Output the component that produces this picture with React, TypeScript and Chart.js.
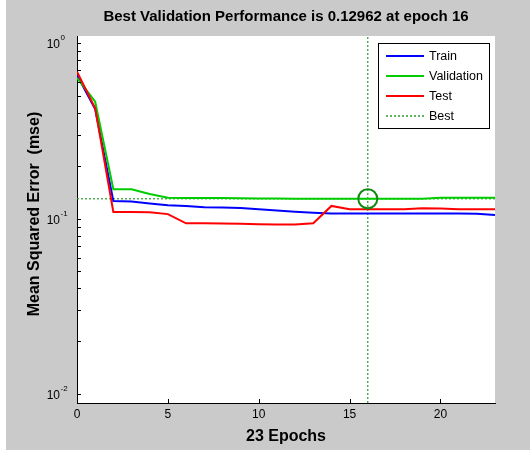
import React, { useEffect, useRef } from 'react';
import { Chart, registerables } from 'chart.js';

Chart.register(...registerables);

// ---- data ----
const epochs = [0, 1, 2, 3, 4, 5, 6, 7, 8, 9, 10, 11, 12, 13, 14, 15, 16, 17, 18, 19, 20, 21, 22, 23];
const trainMse = [0.657, 0.42, 0.126, 0.125, 0.122, 0.119, 0.118, 0.116, 0.1155, 0.115, 0.113, 0.111, 0.1095, 0.108, 0.107, 0.107, 0.1068, 0.1068, 0.1068, 0.1067, 0.1067, 0.1067, 0.1066, 0.1046];
const validationMse = [0.632, 0.463, 0.147, 0.147, 0.138, 0.1312, 0.131, 0.131, 0.1308, 0.1305, 0.13, 0.1299, 0.1298, 0.1298, 0.1297, 0.12965, 0.12962, 0.1297, 0.1297, 0.1298, 0.1312, 0.1312, 0.1313, 0.1313];
const testMse = [0.686, 0.425, 0.109, 0.109, 0.1085, 0.106, 0.094, 0.094, 0.0938, 0.0935, 0.0928, 0.0925, 0.0925, 0.094, 0.118, 0.113, 0.1128, 0.1128, 0.1128, 0.1143, 0.114, 0.1128, 0.1128, 0.1128];
const bestEpoch = 16;
const bestPerf = 0.12962;
const xRange = [0, 23];
const yRange = [0.0089, 1.096];
const xTicks = [0, 5, 10, 15, 20];
const yMajorTicks = [0.01, 0.1, 1];
const yTickBase = '10';
const yTickExponents = ['-2', '-1', '0'];
const yMinorTicks = [0.02, 0.03, 0.04, 0.05, 0.06, 0.07, 0.08, 0.09, 0.2, 0.3, 0.4, 0.5, 0.6, 0.7, 0.8, 0.9];
const seriesLabels = ['Train', 'Validation', 'Test', 'Best'];
const titleText = 'Best Validation Performance is 0.12962 at epoch 16';
const xTitle = '23 Epochs';
const yTitle = 'Mean Squared Error  (mse)';

const FONT = "'Liberation Sans', Arial, Helvetica, sans-serif";
const BLUE = '#0000ff';
const GREEN = '#00cc00';
const RED = '#ff0000';
const BEST = '#2a9a2a';
const CIRCLE = '#118811';

const framePlugin = {
  id: 'matlabFrame',
  beforeDraw(chart: any) {
    const { ctx, chartArea: a, width, height } = chart;
    ctx.save();
    ctx.fillStyle = '#ffffff';
    ctx.fillRect(0, 0, width, height);
    ctx.fillStyle = '#cacaca';
    ctx.fillRect(6, 0, width - 6, height);
    ctx.fillStyle = '#ffffff';
    ctx.fillRect(a.left, a.top, a.right - a.left, a.bottom - a.top);
    ctx.restore();
  },
  afterDraw(chart: any) {
    const { ctx, chartArea: a, scales } = chart;
    const xs = scales.x;
    const ys = scales.y;
    ctx.save();
    // inward tick marks
    ctx.strokeStyle = '#000';
    ctx.lineWidth = 1;
    ctx.beginPath();
    xTicks.forEach((v) => {
      const px = Math.round(xs.getPixelForValue(v)) + 0.5;
      ctx.moveTo(px, a.bottom);
      ctx.lineTo(px, a.bottom - 4);
    });
    [...yMajorTicks, ...yMinorTicks].forEach((v) => {
      const py = Math.round(ys.getPixelForValue(v)) + 0.5;
      ctx.moveTo(a.left, py);
      ctx.lineTo(a.left + 4, py);
    });
    ctx.stroke();

    // y tick labels with superscript exponents
    ctx.fillStyle = '#000';
    yMajorTicks.forEach((v, i) => {
      const py = ys.getPixelForValue(v);
      ctx.font = `12px ${FONT}`;
      ctx.textAlign = 'right';
      ctx.textBaseline = 'middle';
      ctx.fillText(yTickBase, 60, py + 2);
      ctx.font = `8px ${FONT}`;
      ctx.textAlign = 'left';
      ctx.fillText(yTickExponents[i], 60.5, py - 5);
    });

    // title
    ctx.font = `bold 15px ${FONT}`;
    ctx.textAlign = 'center';
    ctx.textBaseline = 'middle';
    ctx.fillText(titleText, (a.left + a.right) / 2, 17);

    // y axis title
    ctx.save();
    ctx.translate(35, 214);
    ctx.rotate(-Math.PI / 2);
    ctx.font = `bold 16px ${FONT}`;
    ctx.textAlign = 'center';
    ctx.textBaseline = 'middle';
    ctx.fillText(yTitle, 0, 0);
    ctx.restore();

    // legend
    const bx = 378.5, by = 43.5, bw = 111, bh = 85;
    ctx.fillStyle = '#ffffff';
    ctx.fillRect(bx, by, bw, bh);
    ctx.strokeStyle = '#000';
    ctx.lineWidth = 1;
    ctx.strokeRect(bx, by, bw, bh);
    const styles = [
      { color: BLUE, width: 2, dash: [] as number[] },
      { color: GREEN, width: 2, dash: [] as number[] },
      { color: RED, width: 2, dash: [] as number[] },
      { color: BEST, width: 1.5, dash: [2, 2] },
    ];
    seriesLabels.forEach((lab, i) => {
      const y = 56 + i * 20;
      const s = styles[i];
      ctx.strokeStyle = s.color;
      ctx.lineWidth = s.width;
      ctx.setLineDash(s.dash);
      ctx.beginPath();
      ctx.moveTo(386, y);
      ctx.lineTo(424, y);
      ctx.stroke();
      ctx.setLineDash([]);
      ctx.fillStyle = '#000';
      ctx.font = `12.5px ${FONT}`;
      ctx.textAlign = 'left';
      ctx.textBaseline = 'middle';
      ctx.fillText(lab, 429, y + 1);
    });
    ctx.restore();
  },
};

export default function App() {
  const canvasRef = useRef<HTMLCanvasElement | null>(null);

  useEffect(() => {
    const canvas = canvasRef.current;
    if (!canvas) return;
    const pts = (vals: number[]) => epochs.map((e, i) => ({ x: e, y: vals[i] }));
    const lineDs = (label: string, vals: number[], color: string) => ({
      label,
      data: pts(vals),
      borderColor: color,
      backgroundColor: color,
      borderWidth: 2,
      pointRadius: 0,
      tension: 0,
      fill: false,
    });
    const chart = new Chart(canvas, {
      type: 'line',
      data: {
        datasets: [
          {
            label: 'Best point',
            data: [{ x: bestEpoch, y: bestPerf }],
            showLine: false,
            pointRadius: 9.5,
            pointBorderWidth: 2,
            pointBorderColor: CIRCLE,
            pointBackgroundColor: 'rgba(0,0,0,0)',
            borderColor: CIRCLE,
          } as any,
          lineDs(seriesLabels[2], testMse, RED),
          lineDs(seriesLabels[1], validationMse, GREEN),
          lineDs(seriesLabels[0], trainMse, BLUE),
          {
            label: 'Best (level)',
            data: [{ x: xRange[0], y: bestPerf }, { x: xRange[1], y: bestPerf }],
            borderColor: BEST,
            borderWidth: 1.2,
            borderDash: [2, 2],
            pointRadius: 0,
          } as any,
          {
            label: seriesLabels[3],
            data: [{ x: bestEpoch, y: yRange[0] }, { x: bestEpoch, y: yRange[1] }],
            borderColor: BEST,
            borderWidth: 1.2,
            borderDash: [2, 2],
            pointRadius: 0,
          } as any,
        ],
      },
      options: {
        responsive: false,
        animation: false,
        devicePixelRatio: 1,
        layout: { padding: { top: 36, right: 35, left: 0, bottom: 0 } },
        plugins: {
          legend: { display: false },
          title: { display: false },
          tooltip: { enabled: false },
        },
        scales: {
          x: {
            type: 'linear',
            min: xRange[0],
            max: xRange[1],
            afterBuildTicks: (scale: any) => {
              scale.ticks = xTicks.map((v) => ({ value: v }));
            },
            afterFit: (scale: any) => {
              scale.height = 47;
            },
            grid: { display: false, drawTicks: false },
            border: { display: true, color: '#000', width: 1 },
            ticks: {
              color: '#000',
              font: { family: FONT, size: 12 },
              padding: 4,
              maxRotation: 0,
              autoSkip: false,
            },
            title: {
              display: true,
              text: xTitle,
              color: '#000',
              font: { family: FONT, size: 16, weight: 'bold' },
              padding: { top: 0, bottom: 4 },
            },
          },
          y: {
            type: 'logarithmic',
            min: yRange[0],
            max: yRange[1],
            afterBuildTicks: (scale: any) => {
              scale.ticks = [...yMajorTicks, ...yMinorTicks].sort((p, q) => p - q).map((v) => ({ value: v }));
            },
            afterFit: (scale: any) => {
              scale.width = 77;
            },
            grid: { display: false, drawTicks: false },
            border: { display: true, color: '#000', width: 1 },
            ticks: { display: false },
            title: { display: false },
          },
        },
      } as any,
      plugins: [framePlugin],
    });
    return () => chart.destroy();
  }, []);

  return (
    <div style={{ position: 'fixed', left: 0, top: 0, width: 530, height: 450 }}>
      <canvas ref={canvasRef} width={530} height={450} />
    </div>
  );
}
